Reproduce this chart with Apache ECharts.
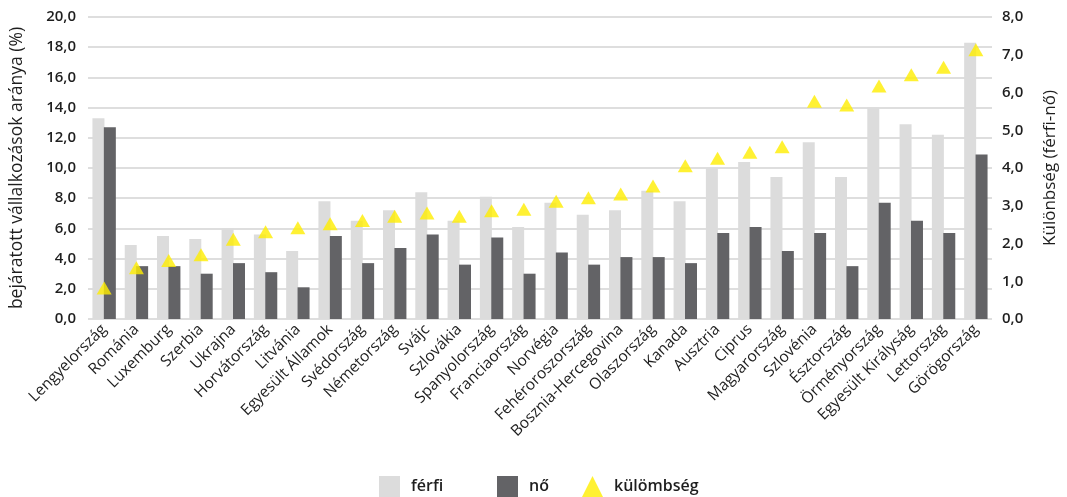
<!DOCTYPE html>
<html>
<head>
<meta charset="utf-8">
<script src="https://cdn.jsdelivr.net/npm/echarts@6/dist/echarts.min.js"></script>
<style>
  html, body { margin: 0; padding: 0; background: #fff; }
  #chart { width: 1067px; height: 497px; }
</style>
</head>
<body>
<div id="chart"></div>
<script>
// Countries, ordered by the gender gap
const countries = [
  'Lengyelország', 'Románia', 'Luxemburg', 'Szerbia', 'Ukrajna', 'Horvátország',
  'Litvánia', 'Egyesült Államok', 'Svédország', 'Németország', 'Svájc', 'Szlovákia',
  'Spanyolország', 'Franciaország', 'Norvégia', 'Fehéroroszország', 'Bosznia-Hercegovina',
  'Olaszország', 'Kanada', 'Ausztria', 'Ciprus', 'Magyarország', 'Szlovénia',
  'Észtország', 'Örményország', 'Egyesült Királyság', 'Lettország', 'Görögország'
];

// Share of established businesses, men (%)
const ferfi = [13.3, 4.9, 5.5, 5.3, 6.0, 5.6, 4.5, 7.8, 6.5, 7.2, 8.4, 6.5, 8.1, 6.1,
  7.7, 6.9, 7.2, 8.5, 7.8, 10.0, 10.4, 9.4, 11.7, 9.4, 14.0, 12.9, 12.2, 18.3];

// Share of established businesses, women (%)
const no = [12.7, 3.5, 3.5, 3.0, 3.7, 3.1, 2.1, 5.5, 3.7, 4.7, 5.6, 3.6, 5.4, 3.0,
  4.4, 3.6, 4.1, 4.1, 3.7, 5.7, 6.1, 4.5, 5.7, 3.5, 7.7, 6.5, 5.7, 10.9];

// Difference (men - women), right axis
const kulonbseg = [0.82, 1.36, 1.55, 1.70, 2.11, 2.31, 2.42, 2.52, 2.61, 2.72, 2.81, 2.72,
  2.87, 2.91, 3.12, 3.21, 3.31, 3.52, 4.06, 4.26, 4.42, 4.56, 5.77, 5.67, 6.17, 6.47, 6.67, 7.13];

const FONT = 'Open Sans';
const TEXT = '#1e1e1e';
const fmt = v => v.toFixed(1).replace('.', ',');

const legendText = { fontFamily: FONT, fontSize: 16, fontWeight: 600, color: TEXT, padding: [0, 0, 0, 6] };
const legendBase = { bottom: 0, padding: 0, itemWidth: 21, itemHeight: 21, textStyle: legendText };

const chart = echarts.init(document.getElementById('chart'), null, { renderer: 'canvas' });

chart.setOption({
  animation: false,
  textStyle: { fontFamily: FONT },
  grid: { left: 88, right: 70, top: 17, bottom: 178, containLabel: false },
  legend: [
    Object.assign({ left: 379, data: [{ name: 'férfi', icon: 'rect' }] }, legendBase),
    Object.assign({ left: 497, data: [{ name: 'nő', icon: 'rect' }] }, legendBase),
    Object.assign({ left: 582, data: [{ name: 'külömbség', icon: 'triangle' }] }, legendBase)
  ],
  xAxis: {
    type: 'category',
    data: countries,
    axisLine: { show: false },
    axisTick: { show: false },
    axisLabel: {
      rotate: 45,
      interval: 0,
      margin: 8,
      fontFamily: FONT,
      fontSize: 15.5,
      fontWeight: 500,
      color: TEXT
    }
  },
  yAxis: [
    {
      type: 'value',
      min: 0, max: 20, interval: 2,
      name: 'bejáratott vállalkozások aránya (%)',
      nameLocation: 'middle',
      nameGap: 62,
      nameTextStyle: { fontFamily: FONT, fontSize: 17.5, color: TEXT },
      axisLine: { show: false },
      axisTick: { show: false },
      axisLabel: {
        formatter: fmt, margin: 12,
        fontFamily: FONT, fontSize: 15, fontWeight: 600, color: TEXT
      },
      splitLine: { lineStyle: { color: '#dedede', width: 2 } }
    },
    {
      type: 'value',
      min: 0, max: 8, interval: 1,
      name: 'Különbség (férfi-nő)',
      nameLocation: 'middle',
      nameGap: 50,
      nameRotate: 90,
      nameTextStyle: { fontFamily: FONT, fontSize: 17, color: TEXT },
      axisLine: { show: false },
      axisTick: { show: false },
      axisLabel: {
        formatter: fmt, margin: 10,
        fontFamily: FONT, fontSize: 15, fontWeight: 600, color: TEXT
      },
      splitLine: { show: false }
    }
  ],
  series: [
    {
      name: 'férfi',
      type: 'bar',
      data: ferfi,
      barWidth: 12,
      barGap: '-5%',
      itemStyle: { color: '#dcdcdc' }
    },
    {
      name: 'nő',
      type: 'bar',
      data: no,
      barWidth: 12,
      itemStyle: { color: '#636366' }
    },
    {
      name: 'külömbség',
      type: 'scatter',
      yAxisIndex: 1,
      data: kulonbseg,
      symbol: 'triangle',
      symbolSize: [15, 13],
      z: 5,
      itemStyle: { color: '#ffee00' }
    }
  ]
});
</script>
</body>
</html>
